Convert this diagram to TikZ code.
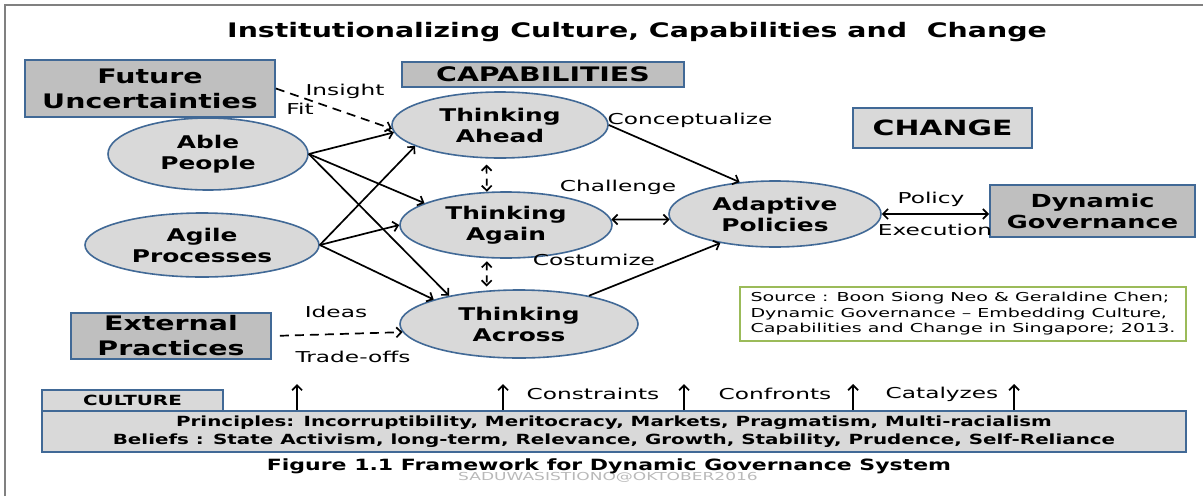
\documentclass[tikz,border=0pt]{standalone}
\usepackage{fontspec}
\setmainfont{DejaVu Sans}[FakeStretch=1.55,BoldFeatures={FakeStretch=1.42}]
\usetikzlibrary{shapes,arrows.meta}
\definecolor{boxgray}{RGB}{191,191,191}
\definecolor{paleg}{RGB}{217,217,217}
\definecolor{edgeblue}{RGB}{65,105,150}
\definecolor{srcgreen}{RGB}{155,187,89}

\begin{document}
\begin{tikzpicture}[% pixel grid, y runs downwards
			x=1pt,y=-1pt,
			every node/.style={
				align=center,	% so that "\\" breaks the line
				inner sep=0pt
			},
			titlebox/.style={rectangle,draw=edgeblue,line width=1.8pt,fill=boxgray,font=\bfseries\fontsize{20}{25}\selectfont},
			capell/.style={ellipse,draw=edgeblue,line width=1.6pt,fill=paleg,font=\bfseries\fontsize{17.5}{21}\selectfont},
			lbl/.style={font=\fontsize{15}{17}\selectfont},
			every edge/.style={draw,line width=1.7pt},
			>={Straight Barb[length=5pt,width=10pt]}
		]
		\useasboundingbox (0,0) rectangle (1203,496);
		\draw[gray,line width=1.2pt] (5,496) -- (5,5) -- (1203,5);

		\node[font=\bfseries\fontsize{20}{24}\selectfont](TTL) at (637,32) {Institutionalizing Culture, Capabilities and~ Change};

		\node[titlebox,minimum width=250,minimum height=57](FU) at (150,88.5) {Future\\Uncertainties};
		\node[titlebox,minimum width=282,minimum height=25](CAP) at (543,74.5) {CAPABILITIES};
		\node[titlebox,fill=paleg,font=\bfseries\fontsize{21}{24}\selectfont,minimum width=179,minimum height=40](CHG) at (942.5,128) {CHANGE};
		\node[titlebox,font=\bfseries\fontsize{18}{21}\selectfont,minimum width=205,minimum height=52](DG) at (1092.5,211) {Dynamic\\Governance};
		\node[titlebox,minimum width=200,minimum height=46](EP) at (171,336) {External\\Practices};

		\node[capell,minimum width=200,minimum height=72](AbP) at (208,154) {Able\\People};
		\node[capell,minimum width=234,minimum height=64](AgP) at (202,245) {Agile\\Processes};
		\node[capell,minimum width=216,minimum height=66](TA) at (500,125) {Thinking\\Ahead};
		\node[capell,minimum width=212,minimum height=66](TG) at (506,225) {Thinking\\Again};
		\node[capell,minimum width=238,minimum height=68](TX) at (519,324) {Thinking\\Across};
		\node[capell,minimum width=212,minimum height=66](AdP) at (775,214) {Adaptive\\Policies};

		\node[rectangle,draw=srcgreen,line width=1.5pt,fill=white,minimum width=446,minimum height=54,align=left,font=\fontsize{12.3}{15.5}\selectfont](SRC) at (963,314) {Source : Boon Siong Neo \& Geraldine Chen;\\Dynamic Governance -- Embedding Culture,\\Capabilities and Change in Singapore; 2013.};

		\node[rectangle,draw=edgeblue,line width=1.8pt,fill=paleg,minimum width=1144,minimum height=41,font=\bfseries\fontsize{14}{18}\selectfont](CB) at (614,431.5) {Principles: Incorruptibility, Meritocracy, Markets, Pragmatism, Multi-racialism\\Beliefs : State Activism, long-term, Relevance, Growth, Stability, Prudence, Self-Reliance};
		\node[rectangle,draw=edgeblue,line width=1.8pt,fill=paleg,minimum width=181,minimum height=21,font=\bfseries\fontsize{14}{16}\selectfont](CT) at (132.5,400.5) {CULTURE};

		\node[text=gray!55,font=\fontsize{11}{12}\selectfont](WM) at (608,477) {SADUWASISTIONO@OKTOBER2016};
		\node[font=\bfseries\fontsize{15.5}{18}\selectfont](CAPT) at (609,466) {Figure 1.1 Framework for Dynamic Governance System};

		% connector labels
		\node[lbl](Lins) at (345,91) {Insight};
		\node[lbl](Lfit) at (300,109) {Fit};
		\node[lbl](Lcon) at (690,120) {Conceptualize};
		\node[lbl](Lcha) at (618,187) {Challenge};
		\node[lbl](Lcos) at (594,260) {Costumize};
		\node[lbl](Lpol) at (931,199) {Policy};
		\node[lbl](Lexe) at (935,230) {Execution};
		\node[lbl](Lide) at (336,312) {Ideas};
		\node[lbl](Ltra) at (353,357) {Trade-offs};
		\node[lbl](Lcst) at (593,394) {Constraints};
		\node[lbl](Lcnf) at (775,394) {Confronts};
		\node[lbl](Lcat) at (942,394) {Catalyzes};

		\path[->]
		(AbP.east)edge (TA.184)
		(AbP.east)edge (TG.165)
		(AbP.east)edge (TX.158)
		(AgP.east)edge (TA.194)
		(AgP.east)edge (TG.west)
		(AgP.east)edge (TX.164)
		(TA.east)edge (AdP.138)
		(TX.22)edge (AdP.208)
		;
		\path[<->]
		(TG.3)edge (AdP.183)
		(AdP.east)edge (AdP.east -| DG.west)
		;
		\path[->,dash pattern=on 9pt off 6pt]
		(FU.east)edge (TA.182)
		(EP.east)edge[shorten <=8pt] (TX.184)
		;
		\path[<->,dash pattern=on 7pt off 5pt]
		(TA.248)edge[shorten <=6pt] (TG.120)
		(TG.240)edge[shorten <=3pt,shorten >=4pt] (TX.134)
		;
		\foreach \dx in {256,462,643,812,973}
			\draw[->,line width=1.7pt] ([xshift=\dx pt]CB.north west) -- ++(0,-26);
	\end{tikzpicture}
\end{document}
